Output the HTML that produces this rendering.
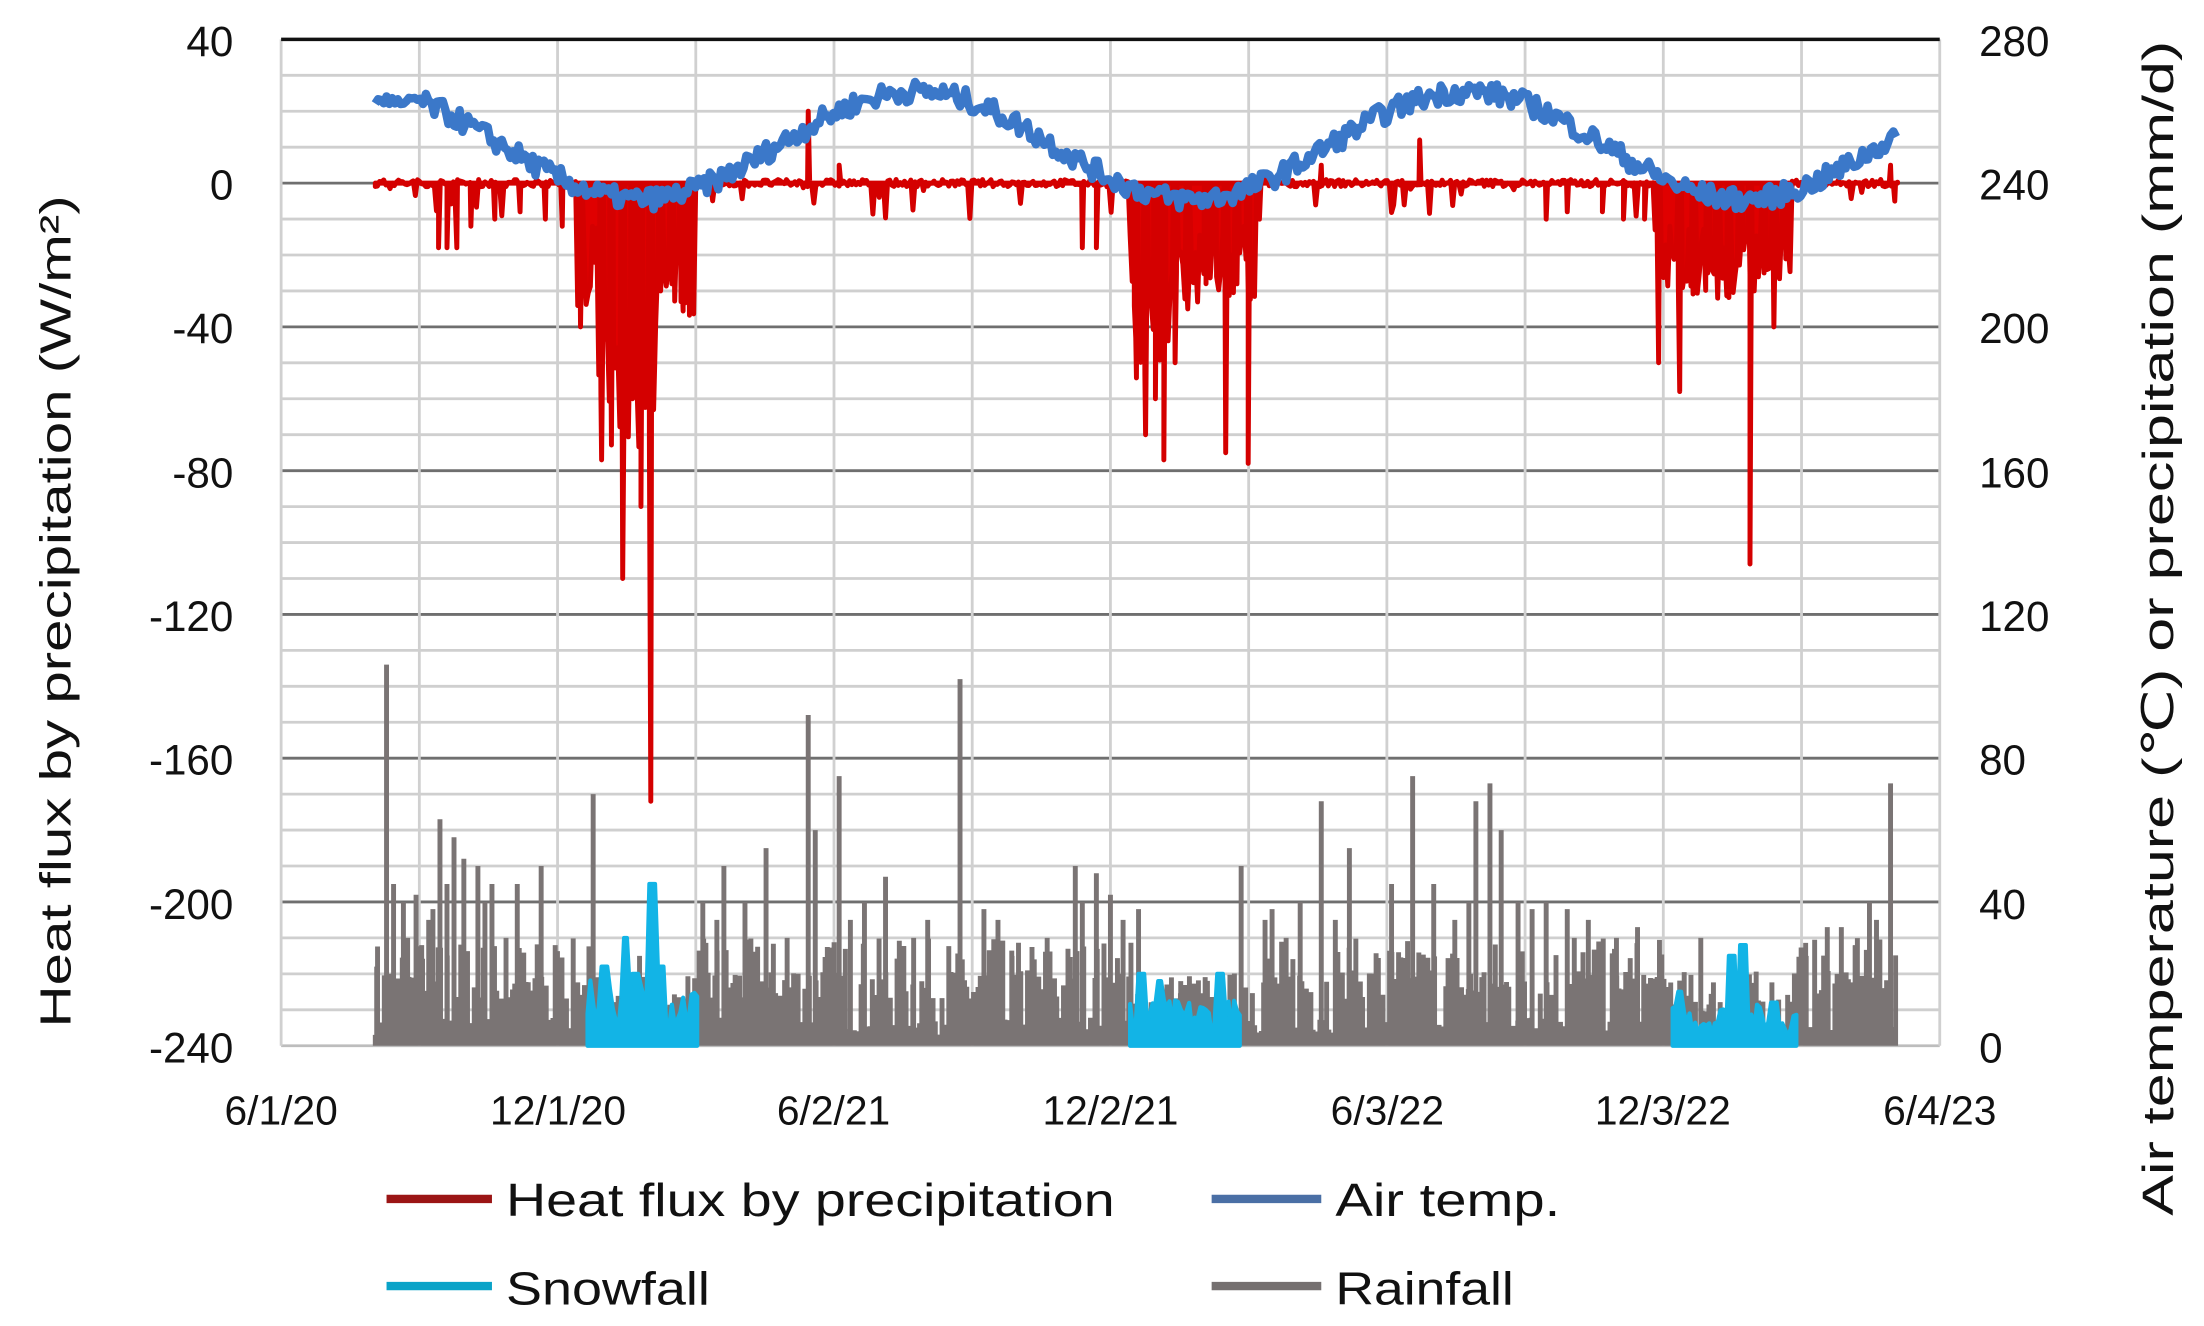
<!DOCTYPE html>
<html><head><meta charset="utf-8"><style>
html,body{margin:0;padding:0;background:#fff;}
svg{display:block;}
text{font-family:"Liberation Sans","DejaVu Sans",sans-serif;fill:#111;}
</style></head><body>
<svg id="s" width="2204" height="1326" viewBox="0 0 1568 943.4" preserveAspectRatio="none" xmlns="http://www.w3.org/2000/svg">
<g id="grid"></g>
<g id="rain"></g>
<g id="snow"></g>
<g id="flux"></g>
<g id="temp"></g>
<line x1="200" y1="28" x2="1380" y2="28" stroke="#111" stroke-width="2.5"/>
<g font-size="30" text-anchor="end">
<text x="166" y="40">40</text><text x="166" y="142">0</text><text x="166" y="244">-40</text><text x="166" y="347">-80</text><text x="166" y="449">-120</text><text x="166" y="551">-160</text><text x="166" y="654">-200</text><text x="166" y="756">-240</text>
</g>
<g font-size="30" text-anchor="start">
<text x="1408" y="40">280</text><text x="1408" y="142">240</text><text x="1408" y="244">200</text><text x="1408" y="347">160</text><text x="1408" y="449">120</text><text x="1408" y="551">80</text><text x="1408" y="654">40</text><text x="1408" y="756">0</text>
</g>
<g font-size="29" text-anchor="middle">
<text x="200" y="800">6/1/20</text><text x="397" y="800">12/1/20</text><text x="593" y="800">6/2/21</text><text x="790" y="800">12/2/21</text><text x="987" y="800">6/3/22</text><text x="1183" y="800">12/3/22</text><text x="1380" y="800">6/4/23</text>
</g>
<text font-size="31" text-anchor="middle" transform="translate(50,435) rotate(-90)" textLength="592" lengthAdjust="spacingAndGlyphs">Heat flux by precipitation (W/m²)</text>
<text font-size="31" text-anchor="middle" transform="translate(1546,447) rotate(-90)" textLength="836" lengthAdjust="spacingAndGlyphs">Air temperature (℃) or precipitation (mm/d)</text>
<g stroke-width="6">
<line x1="275" y1="853" x2="350" y2="853" stroke="#9b1515"/>
<line x1="862" y1="853" x2="940" y2="853" stroke="#4a6fa5"/>
<line x1="275" y1="915" x2="350" y2="915" stroke="#0aa3c8"/>
<line x1="862" y1="915" x2="940" y2="915" stroke="#757070"/>
</g>
<g font-size="33">
<text x="360" y="865" textLength="433" lengthAdjust="spacingAndGlyphs">Heat flux by precipitation</text>
<text x="950" y="865" textLength="160" lengthAdjust="spacingAndGlyphs">Air temp.</text>
<text x="360" y="928" textLength="145" lengthAdjust="spacingAndGlyphs">Snowfall</text>
<text x="950" y="928" textLength="127" lengthAdjust="spacingAndGlyphs">Rainfall</text>
</g>
</svg>
<script>
var NS="http://www.w3.org/2000/svg";
function el(p,t,a){var e=document.createElementNS(NS,t);for(var k in a)e.setAttribute(k,a[k]);document.getElementById(p).appendChild(e);return e;}
var L=200,R=1380,T=28,B=744,S=(B-T)/28;
function yl(v){return T+(40-v)/10*S;}
function yr(v){return B-v/10*S;}
var seed=7;function rnd(){seed=(seed*16807)%2147483647;return seed/2147483647;}
for(var i=1;i<28;i++){var y=T+i*S;var maj=(i%4==0);
 el("grid","line",{x1:L,x2:R,y1:y,y2:y,stroke:maj?"#6f6f6f":"#cfcfcf","stroke-width":2});}
el("grid","line",{x1:L,x2:R,y1:B,y2:B,stroke:"#bdbdbd","stroke-width":2});
for(var j=0;j<=12;j++){var x=L+j*(R-L)/12;el("grid","line",{x1:x,x2:x,y1:T,y2:B,stroke:"#d0d0d0","stroke-width":2});}
// rainfall
var big=[[275,106],[280,45],[313,63],[323,58],[330,52],[340,50],[350,45],[368,45],[385,50],[422,70],[500,40],[515,50],[545,55],[575,92],[580,60],[597,75],[630,47],[683,102],[710,35],[765,50],[780,48],[799,35],[810,38],[883,50],[905,38],[940,68],[960,55],[1005,75],[1050,68],[1060,73],[1068,60],[1080,40],[1100,40],[1115,38],[1130,35],[1165,33],[1210,30],[1300,33],[1310,33],[1330,40],[1345,73],[268,22],[290,30],[300,28],[305,35],[455,25],[470,22],[650,30],[720,25],[840,18],[915,30],[1020,45],[1035,35],[1150,30],[1285,25],[287,40],[296,42],[308,38],[318,45],[345,40],[360,30],[395,28],[510,35],[530,40],[560,30],[605,35],[615,40],[660,35],[700,38],[745,30],[770,40],[790,42],[900,35],[925,40],[950,35],[990,45],[1045,40],[1090,38],[1120,30],[1140,28],[1300,30],[1320,28],[1335,35]];
var rp="";
for(var x=267;x<=1350;x+=1.6){var v=rnd();v=v<0.4?3+v*12:(v<0.8?5+v*20:v*30);
 if((x>420&&x<495)||(x>805&&x<880)||(x>1190&&x<1275))v*=0.7;
 rp+="M"+x.toFixed(1)+" "+B+"V"+yr(v).toFixed(1);}
big.forEach(function(b){rp+="M"+b[0]+" "+B+"V"+yr(b[1]).toFixed(1);});
el("rain","path",{d:rp,stroke:"#7a7474","stroke-width":3.5,fill:"none"});
// snow
function snow(a,b,peaks,base){var p="M"+a+" "+B;for(var x=a;x<=b;x+=2){var v=base*(0.3+rnd());peaks.forEach(function(k){if(Math.abs(x-k[0])<2.5)v=k[1];});p+="L"+x+" "+yr(v).toFixed(1);}p+="L"+b+" "+B+"Z";
 el("snow","path",{d:p,fill:"#12b4e6",stroke:"#12b4e6","stroke-width":3,"stroke-linejoin":"round"});}
snow(418,496,[[430,22],[445,30],[452,20],[464,45],[470,22]],14);
snow(804,882,[[812,20],[825,18],[868,20],[887,22]],10);
snow(1190,1278,[[1195,15],[1232,25],[1240,28],[1262,12]],9);
// flux
var spikes=[[312,-18],[318,-18],[325,-18],[335,-12],[352,-10],[370,-8],[388,-10],[400,-12],[413,-40],[428,-77],[435,-72],[443,-110],[450,-60],[456,-90],[463,-172],[470,-30],[478,-28],[485,-25],[490,-20],[575,20],[597,5],[770,-18],[780,-18],[808,-43],[815,-70],[822,-60],[828,-77],[836,-50],[845,-35],[858,-28],[864,-18],[872,-75],[880,-28],[888,-78],[896,-10],[940,5],[1010,12],[1100,-10],[1115,-8],[1140,-8],[1155,-10],[1170,-10],[1180,-50],[1195,-58],[1205,-20],[1215,-25],[1222,-32],[1230,-30],[1238,-20],[1245,-106],[1255,-25],[1262,-40],[1270,-10],[1345,5],[1348,-5]];
function depth(x){
 if(x>410&&x<495){if(x>425&&x<468)return -35-rnd()*40;return -12-rnd()*25;}
 if(x>803&&x<893){if(x>806&&x<832)return -25-rnd()*30;return -10-rnd()*25;}
 if(x>1176&&x<1275)return -10-rnd()*22;
 return null;}
var fpts=[];
for(var x=267;x<=1350;x+=1.5){var v=(rnd()-0.5)*2;var d=depth(x);
 if(d!==null)v=d; else if(rnd()<0.05)v=-rnd()*10;
 fpts.push([x,v]);}
spikes.forEach(function(s){fpts.push([s[0]-1.2,0]);fpts.push([s[0],s[1]]);fpts.push([s[0]+1.2,0]);});
fpts.sort(function(a,b){return a[0]-b[0];});
var fp="M267 "+yl(0);
fpts.forEach(function(p){fp+="L"+p[0].toFixed(1)+" "+yl(p[1]).toFixed(1);});
el("flux","path",{d:fp+"L1350 "+yl(0)+"Z",fill:"#e00000",stroke:"#d40000","stroke-width":3.5,"stroke-linejoin":"round"});
// temp
var tp="";
for(var x=267;x<=1350;x+=2){var d=(x-L)/(R-L)*1098;var v=10.5+15*Math.cos(2*Math.PI*(d-420)/365)+(rnd()-0.5)*6;
 if(x<300)v=23+(rnd()-0.5)*3; tp+=(tp?"L":"M")+x+" "+yl(v).toFixed(1);}
el("temp","path",{d:tp,fill:"none",stroke:"#3b78c9","stroke-width":6,"stroke-linejoin":"round"});
</script>
</body></html>
